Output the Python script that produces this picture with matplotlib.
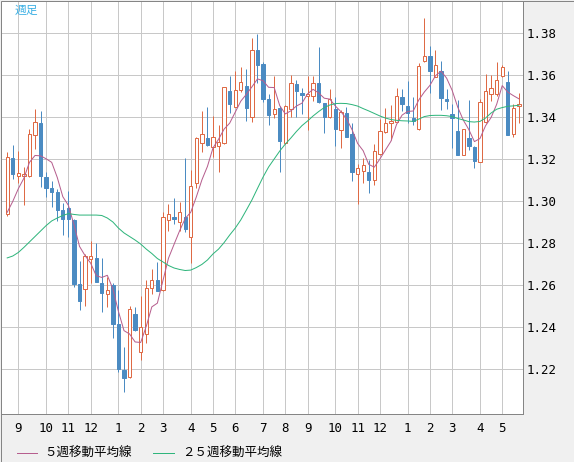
import numpy as np
import matplotlib
matplotlib.use("Agg")
import matplotlib.pyplot as plt
from matplotlib.lines import Line2D
from matplotlib.patches import Rectangle

# ---------------- data (weekly candles) ----------------
opens = [1.2937, 1.3206, 1.3120, 1.3119, 1.3117, 1.3312, 1.3371, 1.3114, 1.3063, 1.3043,
         1.2959, 1.2965, 1.2910, 1.2605, 1.2583, 1.2722, 1.2729, 1.2608, 1.2556, 1.2600,
         1.2414, 1.2195, 1.2163, 1.2462, 1.2280, 1.2365, 1.2584, 1.2624, 1.2575, 1.2910,
         1.2923, 1.2898, 1.2924, 1.2830, 1.3086, 1.3278, 1.3300, 1.3259, 1.3263, 1.3275,
         1.3525, 1.3449, 1.3529, 1.3548, 1.3401, 1.3719, 1.3651, 1.3486, 1.3413, 1.3441,
         1.3275, 1.3438, 1.3557, 1.3513, 1.3501, 1.3499, 1.3562, 1.3467, 1.3399, 1.3438,
         1.3337, 1.3419, 1.3319, 1.3127, 1.3142, 1.3138, 1.3099, 1.3222, 1.3327, 1.3373,
         1.3376, 1.3495, 1.3452, 1.3395, 1.3344, 1.3665, 1.3690, 1.3592, 1.3620, 1.3486,
         1.3414, 1.3333, 1.3220, 1.3300, 1.3259, 1.3187, 1.3376, 1.3508, 1.3510, 1.3597,
         1.3568, 1.3318, 1.3452]
highs = [1.3232, 1.3267, 1.3238, 1.3163, 1.3343, 1.3437, 1.3429, 1.3140, 1.3095, 1.3057,
         1.2989, 1.3049, 1.2915, 1.2715, 1.2747, 1.2809, 1.2801, 1.2729, 1.2640, 1.2611,
         1.2576, 1.2306, 1.2500, 1.2497, 1.2548, 1.2624, 1.2675, 1.2710, 1.2946, 1.2985,
         1.3013, 1.2994, 1.3203, 1.3148, 1.3306, 1.3429, 1.3448, 1.3406, 1.3362, 1.3543,
         1.3595, 1.3620, 1.3640, 1.3627, 1.3776, 1.3797, 1.3662, 1.3510, 1.3595, 1.3452,
         1.3457, 1.3600, 1.3576, 1.3537, 1.3595, 1.3595, 1.3733, 1.3467, 1.3532, 1.3495,
         1.3433, 1.3446, 1.3373, 1.3176, 1.3206, 1.3195, 1.3271, 1.3392, 1.3443, 1.3457,
         1.3537, 1.3533, 1.3571, 1.3495, 1.3659, 1.3873, 1.3738, 1.3719, 1.3667, 1.3533,
         1.3463, 1.3481, 1.3343, 1.3481, 1.3262, 1.3487, 1.3605, 1.3600, 1.3663, 1.3648,
         1.3620, 1.3462, 1.3513]
lows = [1.2929, 1.3105, 1.3087, 1.2981, 1.3114, 1.3250, 1.3067, 1.3019, 1.2971, 1.2905,
        1.2840, 1.2830, 1.2592, 1.2481, 1.2500, 1.2611, 1.2614, 1.2470, 1.2497, 1.2346,
        1.2187, 1.2092, 1.2157, 1.2383, 1.2243, 1.2326, 1.2557, 1.2571, 1.2572, 1.2859,
        1.2889, 1.2857, 1.2851, 1.2706, 1.3061, 1.3235, 1.3262, 1.3211, 1.3140, 1.3273,
        1.3418, 1.3447, 1.3519, 1.3382, 1.3375, 1.3563, 1.3471, 1.3362, 1.3395, 1.3140,
        1.3272, 1.3401, 1.3401, 1.3416, 1.3338, 1.3478, 1.3465, 1.3325, 1.3395, 1.3263,
        1.3251, 1.3305, 1.3097, 1.2988, 1.3084, 1.3037, 1.3076, 1.3219, 1.3324, 1.3289,
        1.3375, 1.3429, 1.3370, 1.3362, 1.3338, 1.3662, 1.3513, 1.3590, 1.3435, 1.3438,
        1.3254, 1.3219, 1.3219, 1.3243, 1.3156, 1.3186, 1.3371, 1.3476, 1.3500, 1.3590,
        1.3314, 1.3303, 1.3370]
closes = [1.3211, 1.3129, 1.3133, 1.3129, 1.3318, 1.3375, 1.3120, 1.3063, 1.3044, 1.2959,
          1.2916, 1.2915, 1.2605, 1.2525, 1.2738, 1.2738, 1.2616, 1.2563, 1.2576, 1.2414,
          1.2201, 1.2159, 1.2484, 1.2386, 1.2402, 1.2584, 1.2623, 1.2573, 1.2922, 1.2937,
          1.2913, 1.2946, 1.2865, 1.3072, 1.3300, 1.3318, 1.3268, 1.3305, 1.3280, 1.3541,
          1.3460, 1.3529, 1.3567, 1.3444, 1.3718, 1.3649, 1.3486, 1.3410, 1.3438, 1.3287,
          1.3452, 1.3560, 1.3525, 1.3506, 1.3508, 1.3560, 1.3473, 1.3401, 1.3484, 1.3344,
          1.3425, 1.3306, 1.3140, 1.3156, 1.3170, 1.3100, 1.3240, 1.3333, 1.3370, 1.3381,
          1.3499, 1.3463, 1.3420, 1.3380, 1.3644, 1.3689, 1.3620, 1.3649, 1.3490, 1.3478,
          1.3397, 1.3221, 1.3341, 1.3263, 1.3192, 1.3471, 1.3524, 1.3538, 1.3576, 1.3638,
          1.3316, 1.3441, 1.3462]
# closes of the four weeks before the first visible candle (for the 5-week average)
prior_closes = [1.2870, 1.2830, 1.2880, 1.2940]
# 25-week moving average as drawn
ma25 = [1.2729, 1.2738, 1.2755, 1.2779, 1.2805, 1.2831, 1.2857, 1.2883, 1.2905, 1.2919,
        1.2931, 1.2940, 1.2936, 1.2933, 1.2933, 1.2933, 1.2933, 1.2931, 1.2919, 1.2900,
        1.2871, 1.2848, 1.2831, 1.2814, 1.2795, 1.2771, 1.2750, 1.2726, 1.2710, 1.2693,
        1.2681, 1.2674, 1.2669, 1.2671, 1.2683, 1.2698, 1.2719, 1.2748, 1.2771, 1.2802,
        1.2838, 1.2871, 1.2910, 1.2957, 1.3005, 1.3060, 1.3114, 1.3162, 1.3200, 1.3238,
        1.3271, 1.3300, 1.3331, 1.3359, 1.3381, 1.3405, 1.3426, 1.3445, 1.3457, 1.3464,
        1.3465, 1.3464, 1.3459, 1.3452, 1.3440, 1.3429, 1.3417, 1.3405, 1.3395, 1.3388,
        1.3384, 1.3382, 1.3381, 1.3379, 1.3390, 1.3402, 1.3407, 1.3408, 1.3408, 1.3406,
        1.3402, 1.3393, 1.3386, 1.3378, 1.3376, 1.3379, 1.3395, 1.3419, 1.3437, 1.3445,
        1.3451, 1.3453, 1.3456]
month_labels = ["9", "10", "11", "12", "1", "2", "3", "4", "5", "6", "7",
                "8", "9", "10", "11", "12", "1", "2", "3", "4", "5"]
month_pos = [2, 7, 11, 15, 20, 24, 28, 33, 37, 41, 46, 50, 54, 59, 63, 67, 72, 76, 80, 85, 89]
price_ticks = [1.22, 1.24, 1.26, 1.28, 1.30, 1.32, 1.34, 1.36, 1.38]
legend_labels = ["５週移動平均線", "２５週移動平均線"]
title = "週足"

# ---------------- styling ----------------
UP = "#de6a45"
DOWN = "#4b8bc2"
MA5_C = "#b65e8e"
MA25_C = "#2fb57c"
GRID = "#c8c8c8"
PANEL = "#f0f0f0"
BORDER = "#858585"
PX = 72 / 100.0  # one pixel in points

W, H = 574, 462
fig = plt.figure(figsize=(W / 100, H / 100), dpi=100, facecolor=PANEL)
ax = fig.add_axes([1 / W, 48 / H, 522 / W, 413 / H])
ax.set_facecolor("white")

n = len(closes)
x = np.arange(n)
o = np.array(opens); c = np.array(closes)
hi = np.array(highs); lo = np.array(lows)
up = c >= o

# wicks
ax.vlines(x[up], lo[up], hi[up], color=UP, lw=PX, zorder=3)
ax.vlines(x[~up], lo[~up], hi[~up], color=DOWN, lw=PX, zorder=3)
# bodies
bw = 0.6
bottoms = np.minimum(o, c)
heights = np.abs(c - o)
ax.bar(x[up], heights[up], bottom=bottoms[up], width=bw, facecolor="white",
       edgecolor=UP, linewidth=PX, zorder=4)
ax.bar(x[~up], heights[~up], bottom=bottoms[~up], width=bw, facecolor=DOWN,
       edgecolor=DOWN, linewidth=PX, zorder=4)

# moving averages
all_c = np.array(prior_closes + closes)
ma5 = np.convolve(all_c, np.ones(5) / 5, mode="valid")
ax.plot(x, ma5, color=MA5_C, lw=PX, zorder=5)
ax.plot(x, ma25, color=MA25_C, lw=PX, zorder=5)

# axes
ax.set_xlim(-1.115, -1.115 + 522 / 5.562)
ax.set_ylim(1.19857, 1.39524)
ax.set_xticks(month_pos)
ax.set_xticklabels(month_labels)
ax.set_yticks(price_ticks)
ax.set_yticklabels([f"{v:.2f}" for v in price_ticks])
ax.yaxis.tick_right()
ax.tick_params(axis="both", length=0, labelsize=9, colors="black")
ax.tick_params(axis="y", pad=2.5)
ax.tick_params(axis="x", pad=6)
for lab in ax.get_xticklabels() + ax.get_yticklabels():
    lab.set_fontfamily("DejaVu Sans Mono")
ax.grid(True, color=GRID, lw=PX, zorder=0)
ax.set_axisbelow(True)
for s in ("top", "left"):
    ax.spines[s].set_visible(False)
for s in ("right", "bottom"):
    ax.spines[s].set_color(BORDER)
    ax.spines[s].set_linewidth(PX)

# title
fig.text(15 / W, 1 - 10.5 / H, title, color="#3cb0e4", fontsize=8.5,
         family=["Noto Sans CJK JP", "DejaVu Sans"], va="center", ha="left")

# legend
ly = 1 - 453 / H
fig.add_artist(Line2D([16.5 / W, 36.6 / W], [ly, ly], color=MA5_C, lw=PX))
fig.text(44.6 / W, ly, legend_labels[0], fontsize=9,
         family=["Noto Sans CJK JP", "DejaVu Sans"], va="center", ha="left")
fig.add_artist(Line2D([153 / W, 174 / W], [ly, ly], color=MA25_C, lw=PX))
fig.text(182 / W, ly, legend_labels[1], fontsize=9,
         family=["Noto Sans CJK JP", "DejaVu Sans"], va="center", ha="left")

# outer frame
fig.add_artist(Rectangle((0.5 / W, 0.5 / H), 1 - 1 / W, 1 - 1 / H, transform=fig.transFigure,
                         fill=False, edgecolor=BORDER, lw=PX))

fig.savefig("out.png", dpi=100, facecolor=PANEL)
